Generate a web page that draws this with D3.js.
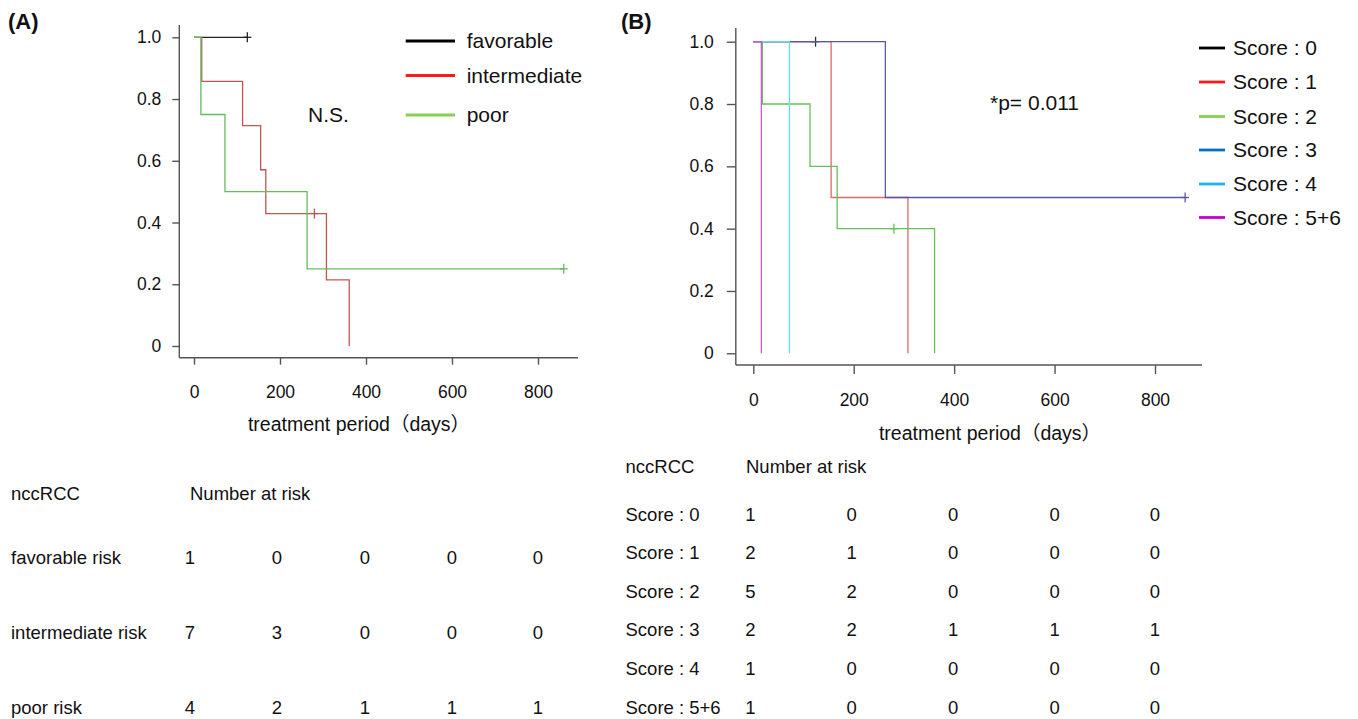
<!DOCTYPE html>
<html>
<head>
<meta charset="utf-8">
<script src="https://cdn.jsdelivr.net/npm/d3@7"></script>
<style>
  body { margin: 0; background: #fff; }
  svg text { font-family: "Liberation Sans", Arial, "Noto Sans CJK JP", sans-serif; fill: #111; }
</style>
</head>
<body>
<div id="chart"></div>
<script>
// ticks shared by both panels
var xTicks = [0, 200, 400, 600, 800];
var yTicks = [0, 0.2, 0.4, 0.6, 0.8, 1.0];
var yTickLabels = ["0", "0.2", "0.4", "0.6", "0.8", "1.0"];
var riskTimes = [0, 200, 400, 600, 800];

// (A) risk groups - step curves (days, survival) and censored times
var favTime = [0, 124];
var favSurv = [1, 1];
var favCens = [124];
var intTime = [0, 18, 113, 155, 167, 308, 361];
var intSurv = [1, 0.857, 0.714, 0.571, 0.429, 0.214, 0];
var intCens = [280];
var poorTime = [0, 16, 72, 263, 860];
var poorSurv = [1, 0.75, 0.5, 0.25, 0.25];
var poorCens = [860];

var legendA = ["favorable", "intermediate", "poor"];
var riskLabelsA = ["favorable risk", "intermediate risk", "poor risk"];
var riskA = [[1, 0, 0, 0, 0], [7, 3, 0, 0, 0], [4, 2, 1, 1, 1]];

// (B) scores
var s0Time = [0, 124];
var s0Surv = [1, 1];
var s0Cens = [124];
var s1Time = [0, 155, 308];
var s1Surv = [1, 0.5, 0];
var s1Cens = [];
var s2Time = [0, 18, 113, 167, 361];
var s2Surv = [1, 0.8, 0.6, 0.4, 0];
var s2Cens = [280];
var s3Time = [0, 263, 860];
var s3Surv = [1, 0.5, 0.5];
var s3Cens = [860];
var s4Time = [0, 72];
var s4Surv = [1, 0];
var s4Cens = [];
var s56Time = [0, 16];
var s56Surv = [1, 0];
var s56Cens = [];

var legendB = ["Score : 0", "Score : 1", "Score : 2", "Score : 3", "Score : 4", "Score : 5+6"];
var riskLabelsB = ["Score : 0", "Score : 1", "Score : 2", "Score : 3", "Score : 4", "Score : 5+6"];
var riskB = [[1, 0, 0, 0, 0], [2, 1, 0, 0, 0], [5, 2, 0, 0, 0], [2, 2, 1, 1, 1], [1, 0, 0, 0, 0], [1, 0, 0, 0, 0]];

var width = 1358;
var height = 719;

var svg = d3.select("#chart")
            .append("svg")
            .attr("width", width)
            .attr("height", height);

// step value of a curve at time t
function survAt(times, surv, t) {
  var s = surv[0];
  for (var i = 0; i < times.length; i++) {
    if (times[i] <= t) s = surv[i];
  }
  return s;
}

function drawPanel(p) {
  var g = svg.append("g");

  var xScale = d3.scaleLinear().domain([0, 800]).range(p.xRange);
  var yScale = d3.scaleLinear().domain([0, 1]).range(p.yRange);

  // axis lines (L shape)
  g.append("line")
   .attr("x1", p.axisX).attr("x2", p.axisX)
   .attr("y1", p.axisTop).attr("y2", p.axisY)
   .attr("stroke", "#555").attr("stroke-width", 1.4);
  g.append("line")
   .attr("x1", p.axisX).attr("x2", p.axisRight)
   .attr("y1", p.axisY).attr("y2", p.axisY)
   .attr("stroke", "#555").attr("stroke-width", 1.4);

  var xAxis = d3.axisBottom(xScale)
                .tickValues(xTicks)
                .tickSize(p.tick)
                .tickPadding(p.xPad)
                .tickFormat(d3.format("d"));
  var yAxis = d3.axisLeft(yScale)
                .tickValues(yTicks)
                .tickSize(p.tick)
                .tickPadding(p.yPad)
                .tickFormat((d, i) => yTickLabels[i]);

  var xg = g.append("g")
            .attr("transform", `translate(0,${p.axisY})`)
            .call(xAxis);
  var yg = g.append("g")
            .attr("transform", `translate(${p.axisX},0)`)
            .call(yAxis);
  [xg, yg].forEach(function(a) {
    a.select(".domain").remove();
    a.selectAll(".tick line").attr("stroke", "#555").attr("stroke-width", 1.4);
    a.selectAll(".tick text").style("font-size", "17.5px").attr("fill", "#111");
  });

  // x title
  g.append("text")
   .attr("x", p.titleX)
   .attr("y", p.titleY)
   .attr("dy", "0.35em")
   .attr("text-anchor", "middle")
   .style("font-size", "19.5px")
   .text("treatment period（days）");

  // panel letter
  g.append("text")
   .attr("x", p.letterX)
   .attr("y", 21)
   .attr("dy", "0.35em")
   .style("font-size", "22px")
   .style("font-weight", "bold")
   .text(p.letter);

  var line = d3.line()
               .x(d => xScale(d[0]))
               .y(d => yScale(d[1]))
               .curve(d3.curveStepAfter);

  p.series.forEach(function(s) {
    var pts = s.time.map((t, i) => [t, s.surv[i]]);
    g.append("path")
     .attr("d", line(pts))
     .attr("fill", "none")
     .attr("stroke", s.color)
     .attr("stroke-width", 1.3);
    s.cens.forEach(function(c) {
      var cx = xScale(c);
      var cy = yScale(survAt(s.time, s.surv, c));
      g.append("line")
       .attr("x1", cx).attr("x2", cx)
       .attr("y1", cy - 5).attr("y2", cy + 5)
       .attr("stroke", s.color).attr("stroke-width", 1.3);
      g.append("line")
       .attr("x1", cx - 4).attr("x2", cx + 4)
       .attr("y1", cy).attr("y2", cy)
       .attr("stroke", s.color).attr("stroke-width", 1.3);
    });
  });

  // legend
  p.legend.forEach(function(name, i) {
    var ly = p.legendY[i];
    g.append("line")
     .attr("x1", p.legendX[0]).attr("x2", p.legendX[1])
     .attr("y1", ly).attr("y2", ly)
     .attr("stroke", p.legendColors[i])
     .attr("stroke-width", 2.8);
    g.append("text")
     .attr("x", p.legendX[2])
     .attr("y", ly)
     .attr("dy", "0.35em")
     .style("font-size", "21px")
     .text(name);
  });

  // p value note
  g.append("text")
   .attr("x", p.noteX)
   .attr("y", p.noteY)
   .attr("dy", "0.35em")
   .style("font-size", "21px")
   .text(p.note);

  // number at risk table
  g.append("text")
   .attr("x", p.tableX)
   .attr("y", p.headY)
   .attr("dy", "0.35em")
   .style("font-size", "18.5px")
   .text("nccRCC");
  g.append("text")
   .attr("x", p.riskHeadX)
   .attr("y", p.headY)
   .attr("dy", "0.35em")
   .style("font-size", "18.5px")
   .text("Number at risk");

  p.riskLabels.forEach(function(name, i) {
    var ry = p.rowY[i];
    g.append("text")
     .attr("x", p.tableX)
     .attr("y", ry)
     .attr("dy", "0.35em")
     .style("font-size", "18.5px")
     .text(name);
    p.risk[i].forEach(function(n, j) {
      g.append("text")
       .attr("x", xScale(riskTimes[j]) + p.colShift[j])
       .attr("y", ry)
       .attr("dy", "0.35em")
       .attr("text-anchor", "middle")
       .style("font-size", "18.5px")
       .text(n);
    });
  });
}

drawPanel({
  letter: "(A)", letterX: 8,
  xRange: [194, 538], yRange: [346, 37.3],
  axisX: 179.3, axisY: 357.7, axisTop: 25, axisRight: 578,
  tick: 7, xPad: 21, yPad: 11,
  titleX: 359, titleY: 424,
  series: [
    { time: favTime, surv: favSurv, cens: favCens, color: "#222" },
    { time: intTime, surv: intSurv, cens: intCens, color: "#c05555" },
    { time: poorTime, surv: poorSurv, cens: poorCens, color: "#62bd5a" }
  ],
  legend: legendA,
  legendColors: ["#000", "#ff1a1a", "#86d04e"],
  legendX: [405.7, 455, 466.7],
  legendY: [41, 75.5, 115],
  note: "N.S.", noteX: 308, noteY: 115,
  tableX: 11, riskHeadX: 190, headY: 494,
  riskLabels: riskLabelsA, risk: riskA,
  rowY: [558, 633, 708],
  colShift: [-4, -3, -1, 0, 0]
});

drawPanel({
  letter: "(B)", letterX: 621,
  xRange: [753.3, 1155], yRange: [353.3, 41.7],
  axisX: 735.8, axisY: 365, axisTop: 28, axisRight: 1202,
  tick: 9, xPad: 20, yPad: 13,
  titleX: 990, titleY: 433,
  series: [
    { time: s0Time, surv: s0Surv, cens: s0Cens, color: "#333" },
    { time: s1Time, surv: s1Surv, cens: s1Cens, color: "#de6a6a" },
    { time: s2Time, surv: s2Surv, cens: s2Cens, color: "#68bf58" },
    { time: s3Time, surv: s3Surv, cens: s3Cens, color: "#5a5aa2" },
    { time: s4Time, surv: s4Surv, cens: s4Cens, color: "#5ee0ea" },
    { time: s56Time, surv: s56Surv, cens: s56Cens, color: "#c65ccc" }
  ],
  legend: legendB,
  legendColors: ["#000", "#ff1a1a", "#86d04e", "#0070c0", "#18b4ef", "#c800c8"],
  legendX: [1199, 1225, 1233],
  legendY: [48, 82, 116.5, 150, 184, 217.5],
  note: "*p= 0.011", noteX: 990, noteY: 103,
  tableX: 625.5, riskHeadX: 746, headY: 467,
  riskLabels: riskLabelsB, risk: riskB,
  rowY: [515, 553, 592, 630, 669, 708],
  colShift: [-3, -2, -1, 0, 0]
});
</script>
</body>
</html>
